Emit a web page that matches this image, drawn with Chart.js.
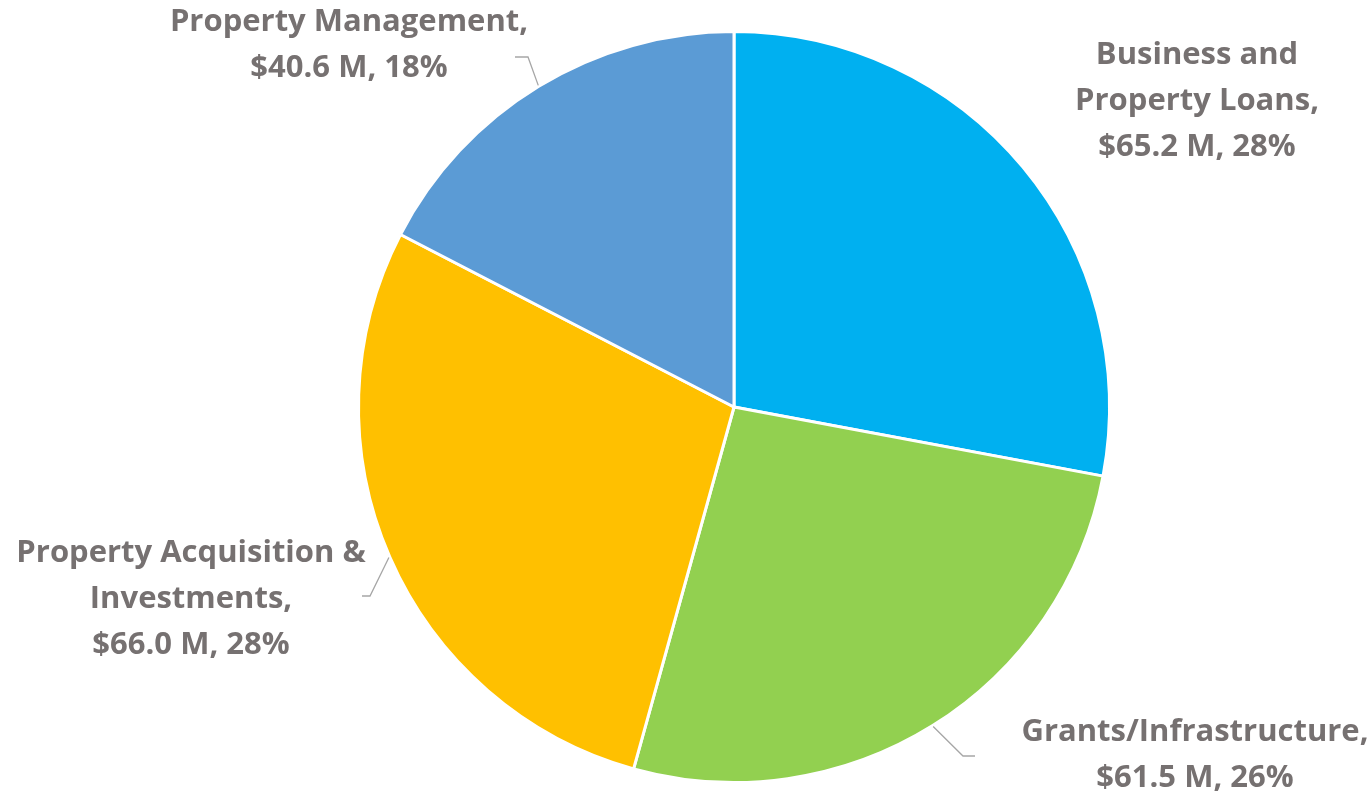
<!DOCTYPE html>
<html>
<head>
<meta charset="utf-8">
<script src="https://cdn.jsdelivr.net/npm/chart.js@4"></script>
<style>
  html, body { margin: 0; padding: 0; background: #fff; }
  #wrap { width: 1371px; height: 796px; position: relative; }
</style>
</head>
<body>
<div id="wrap"><canvas id="budget"></canvas></div>
<script>
const categories = ['Business and Property Loans', 'Grants/Infrastructure', 'Property Acquisition & Investments', 'Property Management'];
const amounts = [65.2, 61.5, 66.0, 40.6];
const percentLabels = ['28%', '26%', '28%', '18%'];
const labelLines = [
  ['Business and', 'Property Loans,', '$65.2 M, 28%'],
  ['Grants/Infrastructure,', '$61.5 M, 26%'],
  ['Property Acquisition &', 'Investments,', '$66.0 M, 28%'],
  ['Property Management,', '$40.6 M, 18%']
];
const sliceColors = ['#00B0F0', '#92D050', '#FFC000', '#5B9BD5'];

// label block centre and leader elbow, relative to pie centre (px); tail = length of the short horizontal bit
const labelLayout = [
  { dx: 463, dy: -352, leader: null },
  { dx: 461, dy: 325, leader: { bx: 229, by: 349, tail: 12 } },
  { dx: -543, dy: 146, leader: { bx: -364, by: 189, tail: -8 } },
  { dx: -385, dy: -385, leader: { bx: -206, by: -350, tail: -13 } }
];

const getById = id => document.getElementById(id);

const pieLabels = {
  id: 'pieLabels',
  afterDraw(chart) {
    const ctx = chart.ctx;
    const arcs = chart.getDatasetMeta(0).data;
    ctx.save();
    ctx.font = 'bold 31px "Open Sans"';
    ctx.fillStyle = '#767171';
    ctx.textAlign = 'center';
    ctx.textBaseline = 'middle';
    const lineH = 46;
    arcs.forEach((arc, i) => {
      const {x, y, startAngle, endAngle, outerRadius} = arc.getProps(['x', 'y', 'startAngle', 'endAngle', 'outerRadius'], true);
      const lay = labelLayout[i];
      const cx = x + lay.dx;
      const top = y + lay.dy;
      labelLines[i].forEach((t, k) => ctx.fillText(t, cx, top + k * lineH));
      const ld = lay.leader;
      if (ld) {
        const mid = (startAngle + endAngle) / 2;
        const ex = x + Math.cos(mid) * (outerRadius + 1);
        const ey = y + Math.sin(mid) * (outerRadius + 1);
        ctx.strokeStyle = '#A6A6A6';
        ctx.lineWidth = 1.3;
        ctx.beginPath();
        ctx.moveTo(ex, ey);
        ctx.lineTo(x + ld.bx, y + ld.by);
        ctx.lineTo(x + ld.bx + ld.tail, y + ld.by);
        ctx.stroke();
      }
    });
    ctx.restore();
  }
};

document.addEventListener('DOMContentLoaded', () => {
  const canvas = getById('budget');
  canvas.width = 1371;
  canvas.height = 796;
  // eslint-disable-next-line
  new Chart(canvas.getContext('2d'), {
    type: 'pie',
    data: {
      labels: categories,
      datasets: [{
        data: amounts,
        backgroundColor: sliceColors,
        borderColor: '#ffffff',
        borderWidth: 3,
        hoverOffset: 0
      }]
    },
    options: {
      responsive: false,
      animation: false,
      layout: { padding: { top: 30, bottom: 12, left: 357, right: 260 } },
      plugins: {
        legend: { display: false },
        tooltip: { enabled: false }
      }
    },
    plugins: [pieLabels]
  });
});
</script>
</body>
</html>
